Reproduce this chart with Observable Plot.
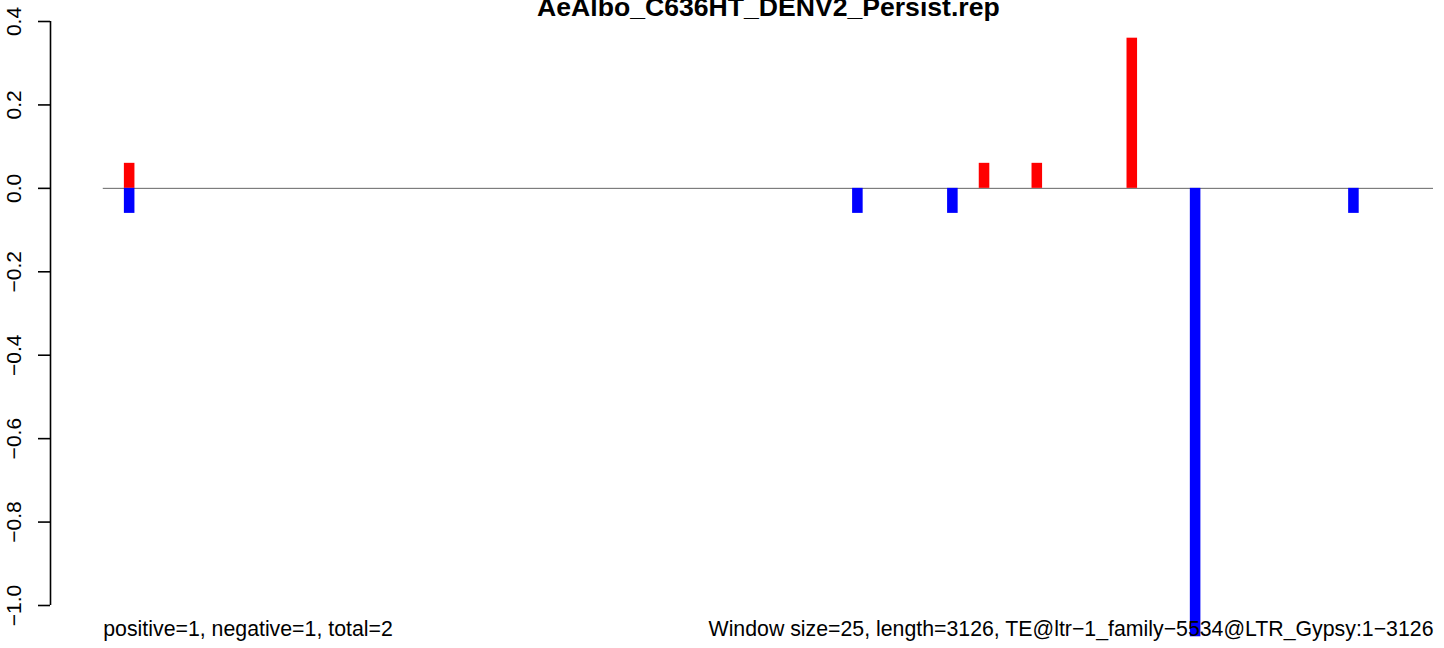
<!DOCTYPE html>
<html>
<head>
<meta charset="utf-8">
<script src="https://cdn.jsdelivr.net/npm/d3@7"></script>
<script src="https://cdn.jsdelivr.net/npm/@observablehq/plot@0.6"></script>
<style>
  html, body { margin: 0; padding: 0; background: #fff; }
  #chart svg { display: block; }
</style>
</head>
<body>
<div id="chart"></div>
<script>
// ---- data ----
const chartTitle = "AeAlbo_C636HT_DENV2_Persist.rep";
const leftNote = "positive=1, negative=1, total=2";
const rightNote = "Window size=25, length=3126, TE@ltr\u22121_family\u22125534@LTR_Gypsy:1\u22123126";
const windowSize = 25;
const seqLength = 3126;

const posStart = [50, 2075, 2200, 2425];
const posValue = [0.06, 0.06, 0.06, 0.36];
const negStart = [50, 1775, 2000, 2575, 2950];
const negValue = [-0.06, -0.06, -0.06, -1.075, -0.06];

const yTicks = [-1.0, -0.8, -0.6, -0.4, -0.2, 0.0, 0.2, 0.4];
const yTickLabels = ["\u22121.0", "\u22120.8", "\u22120.6", "\u22120.4", "\u22120.2", "0.0", "0.2", "0.4"];

// ---- build ----
const bars = [
  ...posStart.map((s, i) => ({start: s, value: posValue[i], color: "#ff0000"})),
  ...negStart.map((s, i) => ({start: s, value: negValue[i], color: "#0000ff"}))
];
const lineEnd = seqLength + windowSize;
const xMin = -125;
const yTickData = yTicks.map((v, i) => ({v, label: yTickLabels[i]}));
const font = "'Liberation Sans', Arial, Helvetica, sans-serif";

const chart = Plot.plot({
  width: 1444,
  height: 648,
  marginLeft: 50,
  marginRight: 11,
  marginTop: 21,
  marginBottom: 43,
  style: {fontFamily: font, background: "#fff", overflow: "visible"},
  x: {type: "linear", domain: [xMin, lineEnd], axis: null},
  y: {type: "linear", domain: [-1.0, 0.4], axis: null},
  marks: [
    // y axis line, ticks, labels
    Plot.ruleX([xMin], {x: d => d, y1: () => d3.min(yTicks), y2: () => d3.max(yTicks), stroke: "#000", strokeWidth: 1.6}),
    Plot.axisY({ticks: yTicks, tickSize: 12, tickFormat: () => "", label: null, stroke: "#000", strokeWidth: 1.6, strokeOpacity: 1}),
    Plot.text(yTickData, {x: () => xMin, y: "v", text: "label", rotate: -90, dx: -36, textAnchor: "middle", lineAnchor: "middle", fontSize: 21, fill: "#000"}),
    // zero line
    Plot.ruleY([0], {x1: () => 0, x2: () => lineEnd, stroke: "#666", strokeWidth: 1}),
    // bars
    Plot.rect(bars, {x1: "start", x2: d => d.start + windowSize, y1: () => 0, y2: "value", fill: "color"}),
    // title
    Plot.text([chartTitle], {x: () => lineEnd / 2, frameAnchor: "top", dy: -6, lineAnchor: "bottom", text: d => d, fontSize: 26.6, fontWeight: "bold", fill: "#000"}),
    // bottom notes
    Plot.text([leftNote], {x: () => 0, frameAnchor: "bottom", dy: 30, lineAnchor: "bottom", textAnchor: "start", text: d => d, fontSize: 21.3, fill: "#000"}),
    Plot.text([rightNote], {x: () => lineEnd, frameAnchor: "bottom", dy: 30, lineAnchor: "bottom", textAnchor: "end", text: d => d, fontSize: 21.3, fill: "#000"})
  ]
});
document.getElementById("chart").appendChild(chart);
</script>
</body>
</html>
